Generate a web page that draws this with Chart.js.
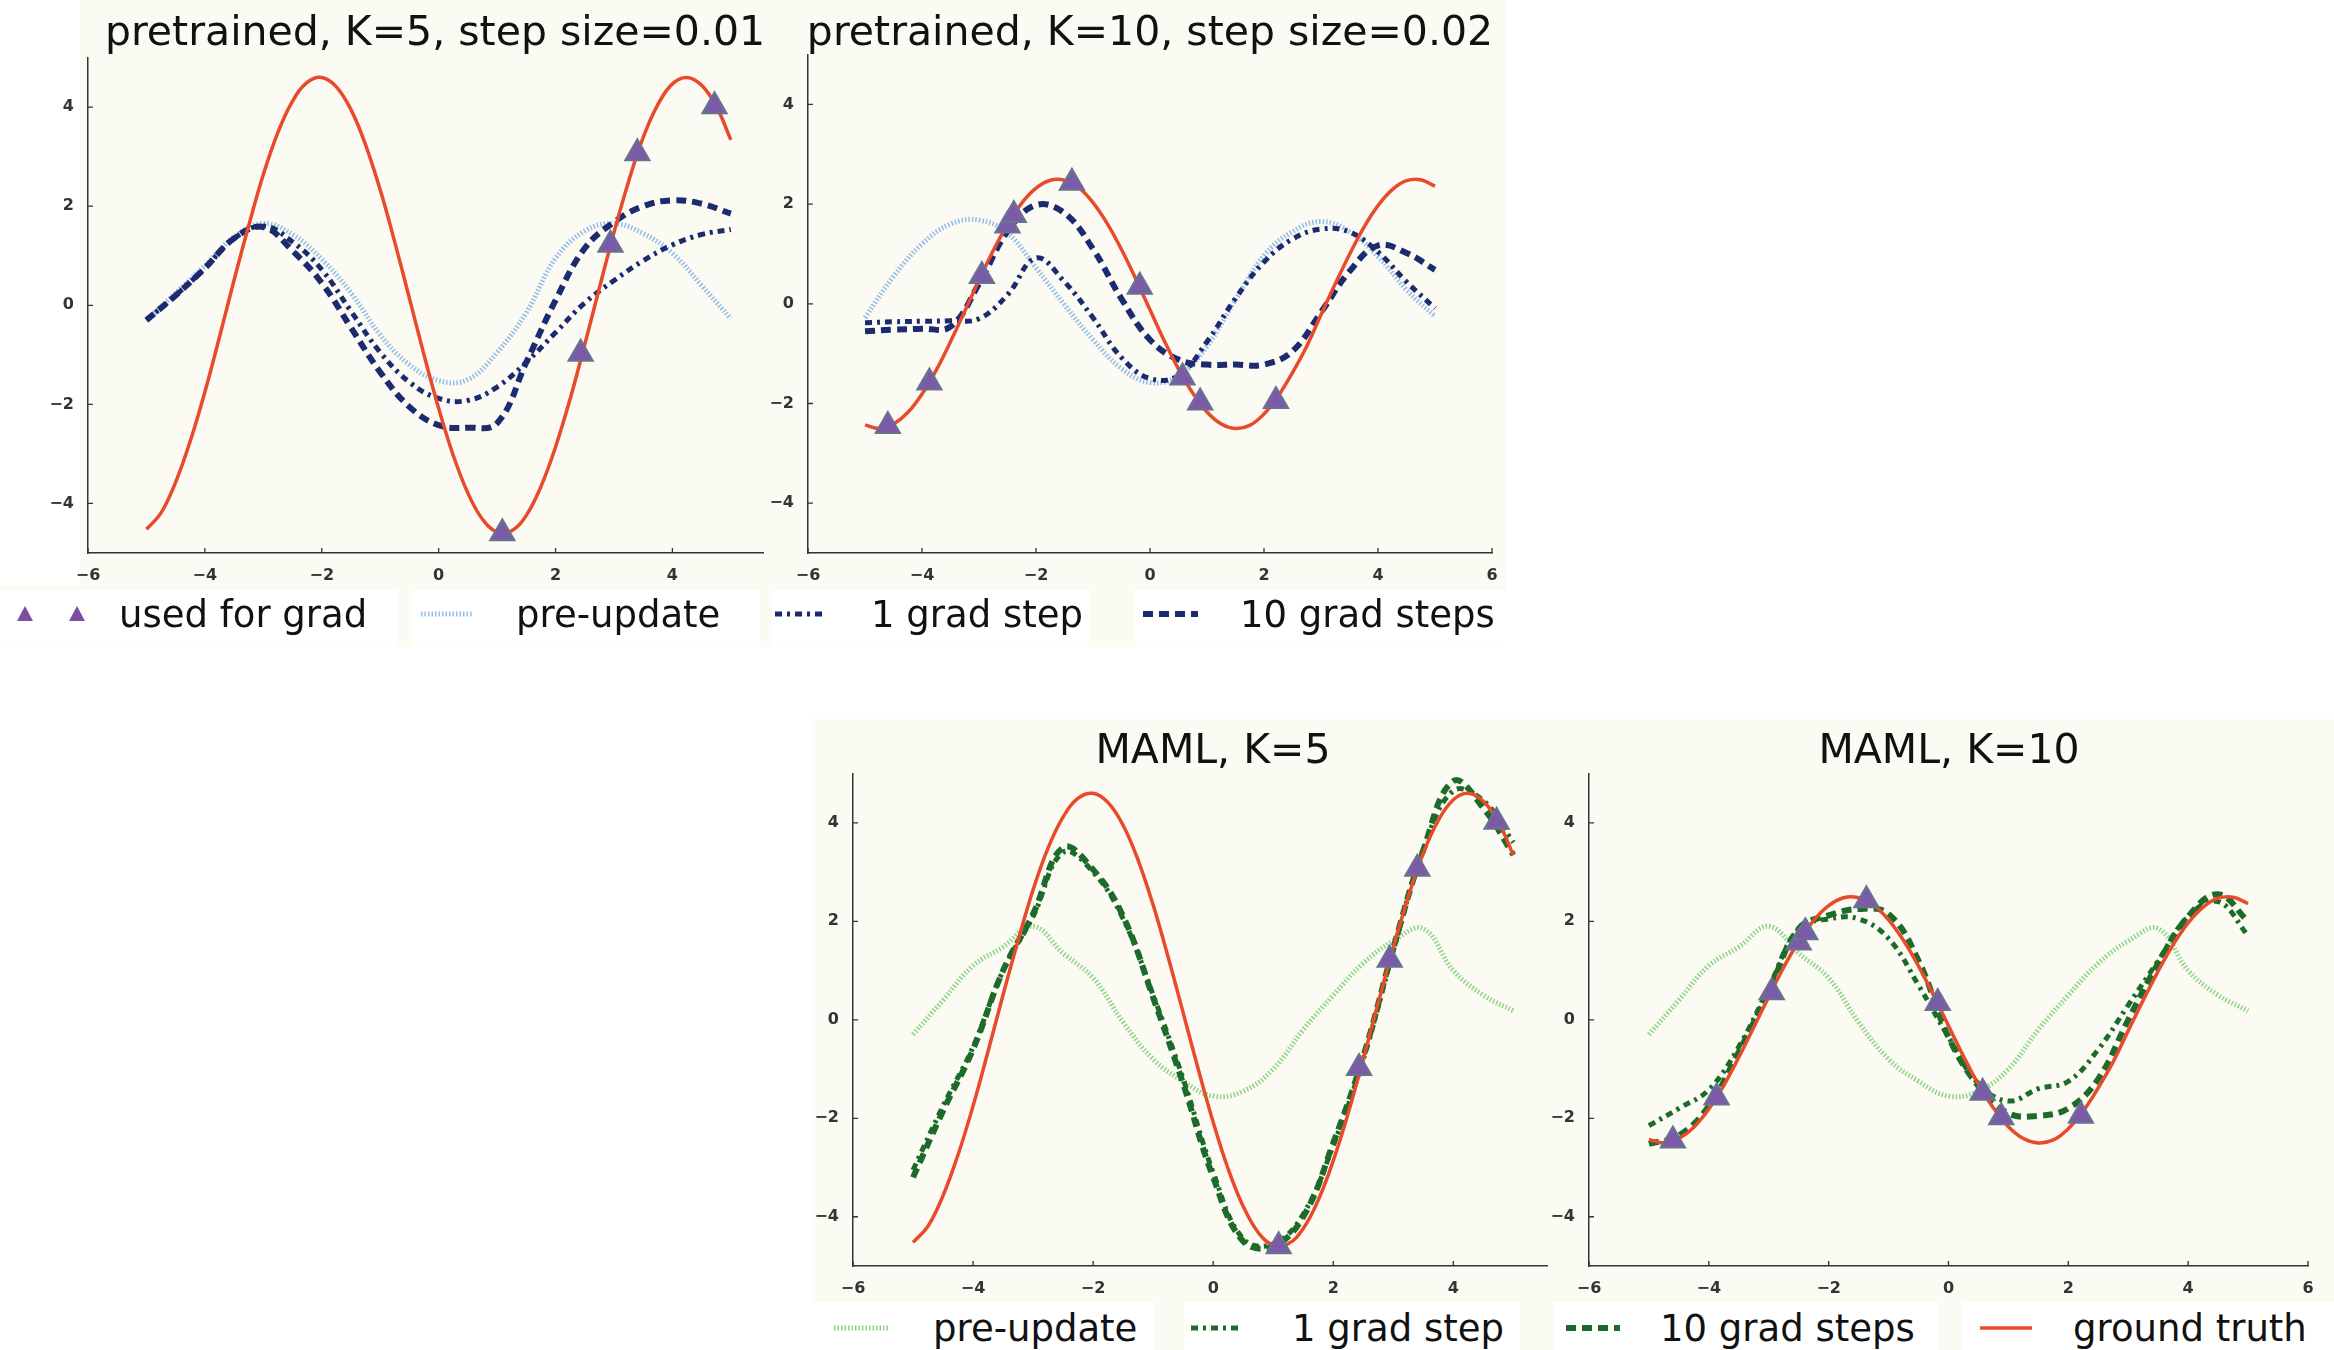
<!DOCTYPE html>
<html>
<head>
<meta charset="utf-8">
<script src="https://cdn.jsdelivr.net/npm/chart.js@4.4.1/dist/chart.umd.min.js"></script>
<style>
  body { margin: 0; width: 2334px; height: 1350px; position: relative; background: #fff; overflow: hidden;
         font-family: "DejaVu Sans", sans-serif; }
  .panel { position: absolute; background: #fbfbf3; }
  .box { position: absolute; background: #fff; }
  .title { position: absolute; font-size: 41px; color: #111; white-space: nowrap; transform: translate(-50%, -50%); }
  .lg { position: absolute; font-size: 37px; color: #111; white-space: nowrap; transform: translateY(-50%); }
  canvas { position: absolute; }
</style>
</head>
<body>
<script>
// sample grids: coarse one for the network outputs, finer one for the true sinusoids
const xGrid = [-5, -4.5, -4, -3.5, -3, -2.5, -2, -1.5, -1, -0.5, 0, 0.5, 1, 1.5, 2, 2.5, 3, 3.5, 4, 4.5, 5];
const xFine = [-5, -4.75, -4.5, -4.25, -4, -3.75, -3.5, -3.25, -3, -2.75, -2.5, -2.25, -2, -1.75, -1.5, -1.25, -1, -0.75, -0.5, -0.25,
               0, 0.25, 0.5, 0.75, 1, 1.25, 1.5, 1.75, 2, 2.25, 2.5, 2.75, 3, 3.25, 3.5, 3.75, 4, 4.25, 4.5, 4.75, 5];
const xTicks = [-6, -4, -2, 0, 2, 4, 6];
const yTicks = [-4, -2, 0, 2, 4];

const titles = ['pretrained, K=5, step size=0.01', 'pretrained, K=10, step size=0.02', 'MAML, K=5', 'MAML, K=10'];
const topLegend = ['used for grad', 'pre-update', '1 grad step', '10 grad steps'];
const bottomLegend = ['pre-update', '1 grad step', '10 grad steps', 'ground truth'];

// ground truth sinusoids on xFine (task A: K=5 plots, task B: K=10 plots)
const truthA = [-4.52, -4.19, -3.57, -2.74, -1.75, -0.64, 0.51, 1.61, 2.64, 3.49, 4.12, 4.50, 4.60, 4.41, 3.95, 3.24, 2.33, 1.27, 0.14, -1.00,
                -2.08, -3.03, -3.79, -4.32, -4.58, -4.55, -4.24, -3.66, -2.86, -1.89, -0.79, 0.35, 1.47, 2.50, 3.39, 4.05, 4.47, 4.60, 4.44, 4.02, 3.34];
const truthB = [-2.43, -2.50, -2.41, -2.18, -1.81, -1.33, -0.76, -0.15, 0.47, 1.07, 1.59, 2.02, 2.32, 2.48, 2.48, 2.33, 2.03, 1.61, 1.09, 0.50,
                -0.12, -0.74, -1.31, -1.79, -2.17, -2.41, -2.50, -2.44, -2.21, -1.85, -1.38, -0.85, -0.22, 0.40, 0.99, 1.53, 1.97, 2.29, 2.47, 2.49, 2.36];

// points used for the gradient steps
const gradAx = [1.09, 2.43, 2.94, 3.40, 4.72];
const gradAy = [-4.60, -0.98, 1.22, 3.07, 4.02];
const gradBx = [-4.60, -3.87, -2.95, -2.50, -2.39, -1.37, -0.18, 0.57, 0.88, 2.21];
const gradBy = [-2.45, -1.58, 0.56, 1.57, 1.78, 2.43, 0.34, -1.48, -1.98, -1.95];

// pretrained network, K=5
const pretrainPreA = [-0.3, 0.25, 0.8, 1.38, 1.65, 1.43, 0.93, 0.25, -0.6, -1.2, -1.52, -1.5, -0.95, -0.15, 0.95, 1.5, 1.65, 1.45, 1.05, 0.4, -0.27];
const pretrainStep1A = [-0.3, 0.2, 0.75, 1.35, 1.6, 1.28, 0.72, -0.12, -0.95, -1.55, -1.88, -1.92, -1.65, -1.15, -0.55, 0.05, 0.5, 0.9, 1.22, 1.43, 1.53];
const pretrainStep10A = [-0.3, 0.2, 0.75, 1.35, 1.58, 1.1, 0.45, -0.45, -1.35, -2.05, -2.42, -2.47, -2.38, -1.15, 0.1, 1.15, 1.68, 2.0, 2.12, 2.05, 1.85];

// pretrained network, K=10
const pretrainPreB = [-0.28, 0.55, 1.2, 1.6, 1.68, 1.42, 0.72, -0.02, -0.72, -1.3, -1.58, -1.45, -0.85, 0.08, 0.97, 1.45, 1.65, 1.45, 0.95, 0.28, -0.25];
const pretrainStep1B = [-0.38, -0.36, -0.35, -0.34, -0.3, 0.18, 0.92, 0.44, -0.28, -1.08, -1.5, -1.44, -0.76, 0.11, 0.84, 1.3, 1.5, 1.44, 1.04, 0.44, -0.09];
const pretrainStep10B = [-0.55, -0.52, -0.5, -0.46, 0.4, 1.45, 1.98, 1.82, 1.1, 0.1, -0.72, -1.12, -1.22, -1.22, -1.22, -0.95, -0.17, 0.65, 1.17, 1.02, 0.68];

// MAML initialisation and its adapted versions
const mamlPre = [-0.3, 0.4, 1.1, 1.48, 1.9, 1.35, 0.85, -0.05, -0.8, -1.25, -1.55, -1.45, -1.0, -0.2, 0.5, 1.15, 1.6, 1.85, 1.0, 0.5, 0.18];
const mamlStep1A = [-3.05, -1.75, -0.55, 1.0, 2.1, 3.4, 3.0, 2.05, 0.5, -1.2, -3.1, -4.45, -4.55, -3.95, -2.55, -0.8, 1.4, 3.45, 4.65, 4.45, 3.6];
const mamlStep10A = [-3.2, -1.85, -0.6, 1.0, 2.15, 3.5, 3.05, 2.1, 0.45, -1.3, -3.2, -4.5, -4.6, -4.0, -2.5, -0.75, 1.45, 3.45, 4.85, 4.3, 3.35];
const mamlStep1B = [-2.15, -1.8, -1.42, -0.55, 0.65, 1.85, 2.05, 2.05, 1.65, 0.7, -0.35, -1.3, -1.65, -1.4, -1.25, -0.6, 0.3, 1.2, 2.1, 2.4, 1.71];
const mamlStep10B = [-2.52, -2.35, -1.75, -0.65, 0.57, 1.85, 2.12, 2.25, 2.15, 1.2, -0.35, -1.35, -1.9, -1.95, -1.8, -1.2, 0.0, 1.15, 2.1, 2.55, 2.0];

const st = {
  truth:   { color: '#e84a2c', width: 3.5, dash: [] },
  preBlue: { color: '#93bbe8', width: 5, dash: [1.5, 2] },
  oneBlue: { color: '#1c2b70', width: 5, dash: [7, 5, 3, 5] },
  tenBlue: { color: '#1c2b70', width: 6, dash: [10, 6] },
  preGreen: { color: '#8ed489', width: 5, dash: [1.5, 2] },
  oneGreen: { color: '#1d6b2b', width: 5, dash: [7, 5, 3, 5] },
  tenGreen: { color: '#1d6b2b', width: 6, dash: [10, 6] }
};
const markFill = '#7b5ba7', markEdge = '#68738f';

function el(cls, css, text) {
  const d = document.createElement('div');
  d.className = cls;
  Object.assign(d.style, css);
  if (text) d.textContent = text;
  document.body.appendChild(d);
  return d;
}

// background panels
el('panel', { left: '80px', top: '0px', width: '1426px', height: '590px' });
el('panel', { left: '0px', top: '585px', width: '1506px', height: '62px' });
el('panel', { left: '812px', top: '719px', width: '1522px', height: '631px' });
[[0, 397], [412, 760], [772, 1089], [1135, 1506]].forEach(b =>
  el('box', { left: b[0] + 'px', top: '590px', width: (b[1] - b[0]) + 'px', height: '56px' }));
[[810, 1155], [1184, 1520], [1553, 1938], [1962, 2334]].forEach(b =>
  el('box', { left: b[0] + 'px', top: '1302px', width: (b[1] - b[0]) + 'px', height: '48px' }));

function fmt(v) { return v < 0 ? '\u2212' + Math.abs(v) : String(v); }

function curve(xs, ys, s) {
  return {
    data: xs.map((x, i) => ({ x: x, y: ys[i] })),
    showLine: true, pointRadius: 0, borderColor: s.color, borderWidth: s.width,
    borderDash: s.dash, borderCapStyle: 'butt', tension: 0.4, fill: false
  };
}

function marks(xs, ys) {
  return {
    data: xs.map((x, i) => ({ x: x, y: ys[i] })),
    showLine: false, pointStyle: 'triangle', pointRadius: 14,
    backgroundColor: markFill, borderColor: markEdge, borderWidth: 2, clip: false
  };
}

// small inward tick marks like the classic matplotlib axes
const inwardTicks = {
  id: 'inwardTicks',
  afterDraw(chart) {
    const { ctx, chartArea, scales: { x, y } } = chart;
    ctx.save();
    ctx.strokeStyle = '#333';
    ctx.lineWidth = 1.3;
    ctx.beginPath();
    x.ticks.forEach(t => {
      const px = x.getPixelForValue(t.value);
      ctx.moveTo(px, chartArea.bottom); ctx.lineTo(px, chartArea.bottom - 5);
    });
    y.ticks.forEach(t => {
      const py = y.getPixelForValue(t.value);
      ctx.moveTo(chartArea.left, py); ctx.lineTo(chartArea.left + 5, py);
    });
    ctx.stroke();
    ctx.restore();
  }
};

const tickFont = { family: 'DejaVu Sans', size: 16, weight: 'bold' };

function plot(box, xMax, datasets) {
  const padL = 60, padT = 12, padR = 14, padB = 40;
  const cv = document.createElement('canvas');
  cv.width = box.right - box.left + padL + padR;
  cv.height = box.bottom - box.top + padT + padB;
  cv.style.left = (box.left - padL) + 'px';
  cv.style.top = (box.top - padT) + 'px';
  document.body.appendChild(cv);
  new Chart(cv, {
    type: 'scatter',
    data: { datasets: datasets },
    options: {
      responsive: false, animation: false, events: [],
      layout: { autoPadding: false, padding: { left: 0, top: padT, right: padR, bottom: 0 } },
      plugins: { legend: { display: false }, tooltip: { enabled: false } },
      scales: {
        x: {
          type: 'linear', min: -6, max: xMax,
          afterBuildTicks: s => { s.ticks = xTicks.filter(v => v <= xMax).map(v => ({ value: v })); },
          afterFit: s => { s.height = padB; },
          grid: { display: false },
          border: { display: true, color: '#333', width: 1.5 },
          ticks: { padding: 5, font: tickFont, color: '#333', maxRotation: 0, autoSkip: false, callback: v => fmt(v) }
        },
        y: {
          type: 'linear', min: -5, max: 5,
          afterBuildTicks: s => { s.ticks = yTicks.map(v => ({ value: v })); },
          afterFit: s => { s.width = padL; },
          grid: { display: false },
          border: { display: true, color: '#333', width: 1.5 },
          ticks: { padding: 6, font: tickFont, color: '#333', autoSkip: false, callback: v => fmt(v) }
        }
      }
    },
    plugins: [inwardTicks]
  });
}

plot({ left: 88, top: 54, right: 763, bottom: 553 }, 5.55, [
  marks(gradAx, gradAy), curve(xFine, truthA, st.truth),
  curve(xGrid, pretrainStep10A, st.tenBlue), curve(xGrid, pretrainStep1A, st.oneBlue), curve(xGrid, pretrainPreA, st.preBlue)
]);
plot({ left: 808, top: 51, right: 1492, bottom: 553 }, 6, [
  marks(gradBx, gradBy), curve(xFine, truthB, st.truth),
  curve(xGrid, pretrainStep10B, st.tenBlue), curve(xGrid, pretrainStep1B, st.oneBlue), curve(xGrid, pretrainPreB, st.preBlue)
]);
plot({ left: 853, top: 770, right: 1547, bottom: 1266 }, 5.56, [
  marks(gradAx, gradAy), curve(xFine, truthA, st.truth),
  curve(xGrid, mamlStep10A, st.tenGreen), curve(xGrid, mamlStep1A, st.oneGreen), curve(xGrid, mamlPre, st.preGreen)
]);
plot({ left: 1589, top: 770, right: 2308, bottom: 1266 }, 6, [
  marks(gradBx, gradBy), curve(xFine, truthB, st.truth),
  curve(xGrid, mamlStep10B, st.tenGreen), curve(xGrid, mamlStep1B, st.oneGreen), curve(xGrid, mamlPre, st.preGreen)
]);

// titles
[[435, 31], [1150, 31], [1213, 749], [1949, 749]].forEach((p, i) =>
  el('title', { left: p[0] + 'px', top: p[1] + 'px' }, titles[i]));

// legend swatches
function swatch(x0, cy, len, s) {
  const c = document.createElement('canvas');
  c.width = len; c.height = 20;
  c.style.left = x0 + 'px'; c.style.top = (cy - 10) + 'px';
  document.body.appendChild(c);
  const g = c.getContext('2d');
  g.strokeStyle = s.color; g.lineWidth = s.width; g.setLineDash(s.dash);
  g.beginPath(); g.moveTo(0, 10); g.lineTo(len, 10); g.stroke();
}
function legendMarks(xs, cy) {
  const c = document.createElement('canvas');
  c.width = 100; c.height = 30;
  c.style.left = '0px'; c.style.top = (cy - 15) + 'px';
  document.body.appendChild(c);
  const g = c.getContext('2d');
  g.fillStyle = '#7a4fa3';
  xs.forEach(x => {
    g.beginPath(); g.moveTo(x, 7); g.lineTo(x + 8, 22); g.lineTo(x - 8, 22); g.closePath(); g.fill();
  });
}

const topY = 614, botY = 1328;
legendMarks([25, 77], topY);
swatch(421, topY, 52, st.preBlue);
swatch(775, topY, 48, st.oneBlue);
swatch(1143, topY, 55, st.tenBlue);
[119, 516, 871, 1240].forEach((x, i) => el('lg', { left: x + 'px', top: topY + 'px' }, topLegend[i]));

swatch(834, botY, 55, st.preGreen);
swatch(1191, botY, 52, st.oneGreen);
swatch(1566, botY, 54, st.tenGreen);
swatch(1980, botY, 52, st.truth);
[933, 1292, 1660, 2073].forEach((x, i) => el('lg', { left: x + 'px', top: botY + 'px' }, bottomLegend[i]));
</script>
</body>
</html>
